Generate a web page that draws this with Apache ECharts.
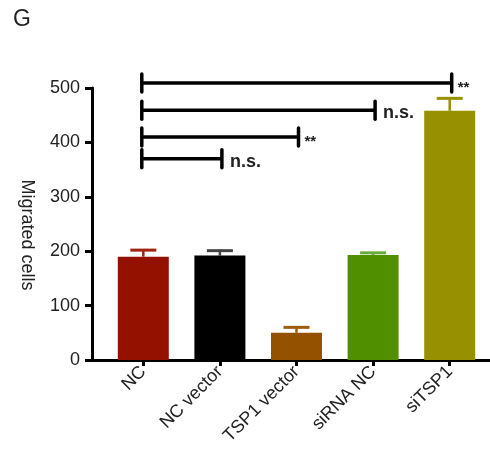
<!DOCTYPE html>
<html>
<head>
<meta charset="utf-8">
<script src="https://cdn.jsdelivr.net/npm/echarts@6/dist/echarts.min.js"></script>
<style>html,body{margin:0;padding:0;background:#fff}#c{width:490px;height:458px}</style>
</head>
<body>
<div id="c"></div>
<script>
var categories = ['NC', 'NC vector', 'TSP1 vector', 'siRNA NC', 'siTSP1'];
var means = [190, 192, 50, 193, 458];
var errTops = [202, 201, 60, 197, 481];
var yTicks = [0, 100, 200, 300, 400, 500];
var yTitle = 'Migrated cells';
// significance brackets: [fromIndex, toIndex, yValue, label]
var brackets = [
  [0, 4, 509, '**'],
  [0, 3, 459, 'n.s.'],
  [0, 2, 410, '**'],
  [0, 1, 370, 'n.s.']
];
var barColors = ['#941100', '#000000', '#945200', '#4f8f00', '#979000'];
var errColors = ['#a3220f', '#444444', '#a05c10', '#6aaa3a', '#979000'];

var FONT = 'Liberation Sans, Arial, Helvetica, sans-serif';
var chart = echarts.init(document.getElementById('c'));
chart.setOption({
  animation: false,
  backgroundColor: '#fff',
  graphic: [{
    type: 'text', left: 13, top: 8,
    style: { text: 'G', font: '23px ' + FONT, fill: '#222' }
  }, {
    type: 'text', x: 27, y: 235, rotation: -Math.PI / 2,
    style: { text: yTitle, font: '18px ' + FONT, fill: '#222', align: 'center', verticalAlign: 'middle' }
  }],
  grid: [
    { left: 92, right: 0, top: 88, bottom: 98 },
    { left: 105, right: 2, top: 88, bottom: 98 }
  ],
  xAxis: [
    { type: 'value', gridIndex: 0, min: 0, max: 1,
      axisLine: { show: true, lineStyle: { color: '#000', width: 3 } },
      axisTick: { show: false }, axisLabel: { show: false }, splitLine: { show: false } },
    { type: 'category', gridIndex: 1, data: categories,
      axisLine: { show: false },
      axisTick: { show: true, alignWithLabel: true, length: 6, lineStyle: { color: '#000', width: 3 } },
      axisLabel: { rotate: 45, margin: 9, fontSize: 18, fontFamily: FONT, color: '#222', interval: 0 } }
  ],
  yAxis: [
    { type: 'value', gridIndex: 0, min: yTicks[0], max: yTicks[yTicks.length - 1], interval: 100,
      axisLine: { show: true, lineStyle: { color: '#000', width: 3 } },
      axisTick: { show: true, length: 7, lineStyle: { color: '#000', width: 3 } },
      axisLabel: { margin: 12, fontSize: 18, fontFamily: FONT, color: '#222' },
      splitLine: { show: false } },
    { type: 'value', gridIndex: 1, min: 0, max: 500, show: false }
  ],
  series: [
    { type: 'bar', xAxisIndex: 1, yAxisIndex: 1, barWidth: 51,
      data: means.map(function (v, i) { return { value: v, itemStyle: { color: barColors[i] } }; }) },
    { type: 'custom', xAxisIndex: 1, yAxisIndex: 1, clip: false,
      data: means.map(function (v, i) { return [i, v, errTops[i]]; }),
      renderItem: function (params, api) {
        var i = api.value(0);
        var p0 = api.coord([i, api.value(1)]);
        var p1 = api.coord([i, api.value(2)]);
        var c = errColors[params.dataIndex];
        return { type: 'group', children: [
          { type: 'line', shape: { x1: p0[0], y1: p0[1], x2: p1[0], y2: p1[1] }, style: { stroke: c, lineWidth: 2.5 } },
          { type: 'line', shape: { x1: p1[0] - 13, y1: p1[1], x2: p1[0] + 13, y2: p1[1] }, style: { stroke: c, lineWidth: 3 } }
        ] };
      } },
    { type: 'custom', xAxisIndex: 1, yAxisIndex: 1, clip: false,
      data: brackets,
      renderItem: function (params, api) {
        var a = api.coord([api.value(0), api.value(2)]);
        var b = api.coord([api.value(1), api.value(2)]);
        var lab = brackets[params.dataIndex][3];
        var x1 = a[0] - 1.5, x2 = b[0] + 2;
        var isStar = lab === '**';
        return { type: 'group', children: [
          { type: 'line', shape: { x1: x1, y1: a[1], x2: x2, y2: b[1] }, style: { stroke: '#000', lineWidth: 3.5 } },
          { type: 'line', shape: { x1: x1, y1: a[1] - 9, x2: x1, y2: a[1] + 9 }, style: { stroke: '#000', lineWidth: 3.5, lineCap: 'round' } },
          { type: 'line', shape: { x1: x2, y1: b[1] - 9, x2: x2, y2: b[1] + 9 }, style: { stroke: '#000', lineWidth: 3.5, lineCap: 'round' } },
          { type: 'text', x: x2 + (isStar ? 6 : 8), y: b[1] + (isStar ? 5 : 3),
            style: { text: lab, font: (isStar ? 'bold 15px ' : 'bold 18px ') + FONT, fill: '#222', verticalAlign: 'middle', align: 'left' } }
        ] };
      } }
  ]
});
</script>
</body>
</html>
